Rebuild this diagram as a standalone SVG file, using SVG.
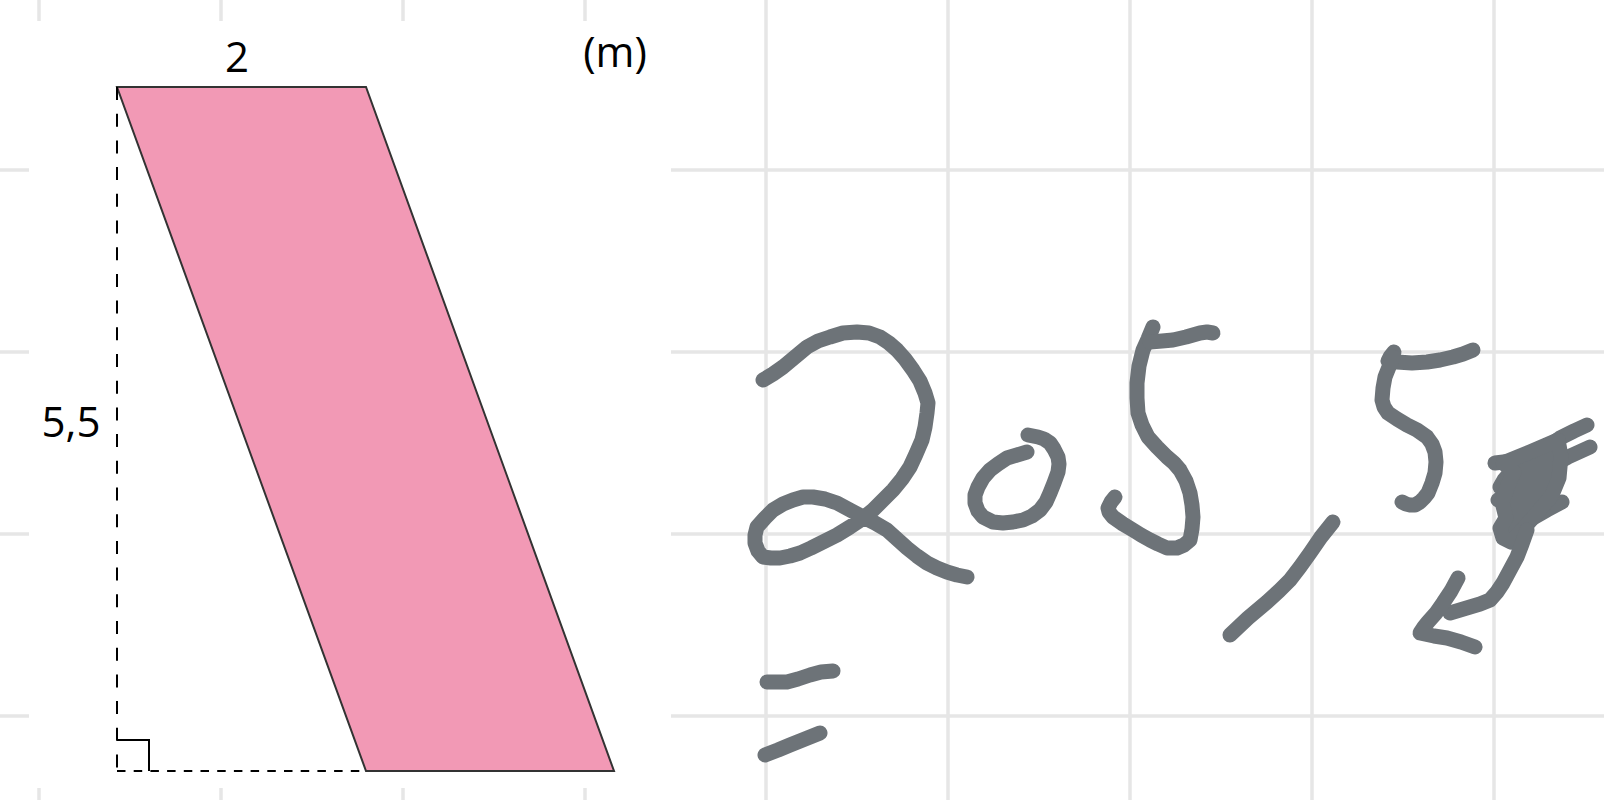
<svg xmlns="http://www.w3.org/2000/svg" width="1604" height="800" viewBox="0 0 1604 800">
<style>
.grid{stroke:#e6e6e6;stroke-width:3.5;fill:none}
.ink{stroke:#6d7378;stroke-width:15;fill:none;stroke-linecap:round;stroke-linejoin:round}
.blob{fill:#6d7378;stroke:#6d7378;stroke-width:15;stroke-linejoin:round}
.lbl{font-family:"Open Sans","Noto Sans","Liberation Sans",sans-serif;font-size:42px;fill:#000;text-anchor:middle}
.dash{stroke:#000;stroke-width:2;fill:none}
</style>
<rect width="1604" height="800" fill="#fff"/>
<g id="grid">
<path class="grid" d="M39 0V800M221 0V800M403 0V800M585 0V800M766 0V800M948 0V800M1130 0V800M1312 0V800M1494 0V800M0 170H1604M0 352H1604M0 534H1604M0 716H1604"/>
</g>
<rect x="29" y="21" width="642" height="767" fill="#fff"/>
<g id="figure">
<polygon points="117,87 366,87 614,771 366,771" fill="#f299b5" stroke="#333" stroke-width="2"/>
<line class="dash" x1="117" y1="87" x2="117" y2="771" stroke-dasharray="13 13.7"/>
<line class="dash" x1="117" y1="771" x2="366" y2="771" stroke-dasharray="8.5 8.2"/>
<polyline points="117,740 149,740 149,771" fill="none" stroke="#000" stroke-width="2"/>
</g>
<g id="labels">
<text class="lbl" x="237" y="72">2</text>
<text class="lbl" x="615" y="67">(m)</text>
<text class="lbl" x="71" y="437">5,5</text>
</g>
<g id="handwriting">
<polyline class="ink" points="763,380 773,374 783,367 795,357 807,347 818,341 830,337 843,333 857,332 869,333 880,337 889,343 897,350 905,359 913,370 920,381 925,393 928,403 927,413 925,427 922,440 916,454 910,467 902,479 893,490 883,500 873,510 862,519 850,527 837,535 823,542 811,548 800,553 790,556 780,558 771,558 763,557 758,551 755,543 755,535 757,527 765,518 773,510 783,504 793,500 803,497 813,497 825,499 837,503 850,510 863,517 875,523 887,530 897,539 907,548 917,556 927,563 937,568 947,572 957,575 967,577"/>
<polyline class="ink" points="1027,452 1017,455 1007,458 998,464 990,470 983,478 978,487 975,495 975,503 978,511 983,517 993,522 1003,523 1013,522 1023,520 1032,516 1040,510 1046,502 1050,493 1054,483 1058,472 1059,464 1058,457 1054,449 1050,443 1044,439 1038,437 1033,436 1028,435"/>
<polyline class="ink" points="1153,327 1148,339 1143,350 1139,366 1137,383 1137,398 1138,413 1142,425 1148,437 1157,447 1167,457 1174,463 1180,470 1186,481 1190,493 1192,505 1193,517 1192,529 1190,540 1184,545 1177,548 1167,548 1158,544 1150,540 1141,535 1133,530 1123,524 1113,517 1109,512 1108,508 1111,502 1115,497"/>
<polyline class="ink" points="1150,342 1162,341 1173,340 1186,337 1200,333 1207,332 1213,333"/>
<polyline class="ink" points="1230,635 1248,618 1267,602 1279,591 1290,580 1300,567 1310,553 1321,537 1333,522"/>
<polyline class="ink" points="1394,352 1390,357 1388,361"/>
<polyline class="ink" points="1397,362 1412,363 1427,362 1440,360 1453,357 1463,354 1473,350"/>
<polyline class="ink" points="1393,357 1389,367 1385,377 1383,388 1382,400 1384,407 1388,413 1397,419 1407,425 1417,430 1427,437 1432,444 1435,452 1436,462 1435,473 1432,483 1428,493 1424,498 1420,502 1415,505 1410,505 1406,504 1402,502"/>
<polyline class="ink" points="1495,463 1512,461 1530,458"/>
<polyline class="ink" points="1587,425 1574,431 1560,438 1545,449 1530,460 1520,467 1510,473 1504,480 1500,487"/>
<polyline class="ink" points="1590,447 1568,457 1547,468 1532,477 1517,487 1508,494 1498,500"/>
<polyline class="ink" points="1562,502 1547,510 1533,518 1525,523 1517,527"/>
<polygon class="blob" points="1503,463 1530,452 1558,440 1561,456 1559,478 1552,495 1538,512 1524,528 1511,542 1503,538 1500,528 1506,518 1502,502 1508,485 1514,472"/>
<polyline class="ink" points="1527,530 1522,544 1517,557 1510,570 1503,583 1497,592 1490,600 1480,604 1470,607 1460,610 1450,613"/>
<polyline class="ink" points="1458,578 1451,591 1443,603 1436,613 1428,622 1424,627 1420,633 1434,636 1447,638 1461,642 1475,647"/>
<polyline class="ink" points="767,682 777,682 787,682 798,679 810,675 821,672 833,671"/>
<polyline class="ink" points="765,755 778,750 790,745 805,739 820,733"/>
</g>
</svg>
